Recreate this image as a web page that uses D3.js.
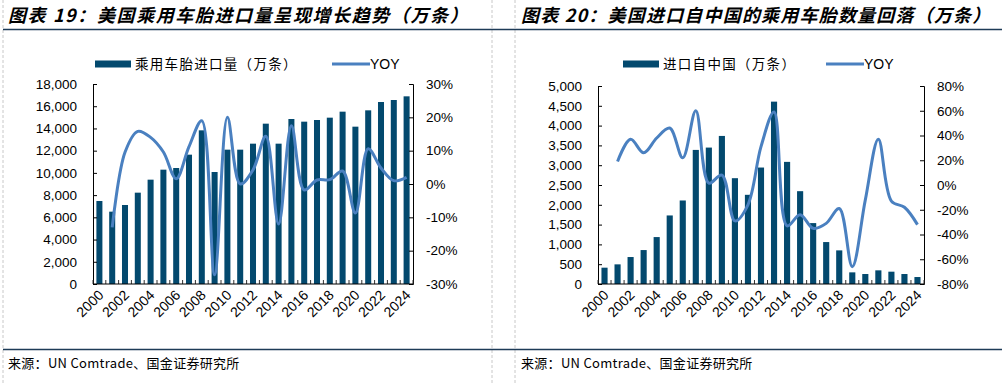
<!DOCTYPE html>
<html>
<head>
<meta charset="utf-8">
<script src="https://cdn.jsdelivr.net/npm/d3@7"></script>
<style>
  body { margin: 0; background: #fff; }
  svg { display: block; }
  .tick text { font-family: "Liberation Sans", Arial, sans-serif; }
</style>
</head>
<body>
<svg id="chart" width="1002" height="385"></svg>
<script>
// ---- data ----
var years = d3.range(2000, 2025).map(String);
var yearLabels = years.filter(function(d, i){ return i % 2 == 0; });

// chart 19: US passenger tyre imports (10k units)
var importsTotal = [7470, 6510, 7110, 8220, 9390, 10290, 10440, 11640, 13830, 10080,
                    12090, 12090, 12630, 14430, 12630, 14850, 14610, 14760, 14970, 15510,
                    14160, 15630, 16380, 16560, 16890];
var importsTotalYoy = [null, -13.0, 9.5, 15.8, 14.0, 9.6, 1.6, 11.2, 19.0, -27.2,
                       20.0, 0.0, 4.2, 14.3, -12.0, 17.5, -1.8, 1.2, 1.3, 3.9,
                       -8.7, 10.6, 4.8, 1.0, 2.0];

// chart 20: US imports from China (10k units)
var importsChina = [412, 496, 681, 857, 1185, 1731, 2109, 3386, 3445, 3739,
                    2672, 2252, 2941, 4605, 3084, 2344, 1538, 1059, 849, 294,
                    252, 345, 311, 252, 176];
var importsChinaYoy = [null, 19, 37, 26, 38, 46, 22, 60, 1.5, 8,
                       -29, -16, 31, 59, -33, -24, -35, -31, -19, -66,
                       -12, 37, -13, -18, -32];

var leftTicks1 = d3.range(0, 18001, 2000);
var rightTicks1 = d3.range(-30, 31, 10);
var leftTicks2 = d3.range(0, 5001, 500);
var rightTicks2 = d3.range(-80, 81, 20);

var barColor = "#03496e";
var lineColor = "#4a80c0";
var ruleColor = "#1d3b57";
var cjk = "'Noto Sans CJK SC', sans-serif";
var latin = "'Liberation Sans', Arial, sans-serif";

var svg = d3.select("#chart");

// frame: dashed separators and rules
[3, 492, 515].forEach(function(x){
    svg.append("line")
        .attr("x1", x).attr("x2", x).attr("y1", 0).attr("y2", 385)
        .attr("stroke", "#c8c8c8").attr("stroke-dasharray", "3,2");
});
[29.5, 349.5].forEach(function(y){
    svg.append("line")
        .attr("x1", 3).attr("x2", 1002).attr("y1", y).attr("y2", y)
        .attr("stroke", ruleColor).attr("stroke-width", 1.3);
});

function drawChart(cfg){
    var g = svg.append("g");

    g.append("text")
        .attr("x", cfg.titleX).attr("y", 22)
        .style("font-family", cjk).style("font-weight", "bold")
        .style("font-style", "italic").style("font-size", "18px")
        .style("letter-spacing", cfg.titleSpacing + "px")
        .text(cfg.title);

    g.append("text")
        .attr("x", cfg.titleX).attr("y", 368)
        .style("font-family", cjk).style("font-size", "13px")
        .style("letter-spacing", "0.3px")
        .text("来源：UN Comtrade、国金证券研究所");

    var x = d3.scaleBand().domain(years)
        .range([cfg.x0, cfg.x1])
        .paddingInner(0.53).paddingOuter(0.265);

    var yL = d3.scaleLinear().domain(cfg.leftDomain).range([cfg.yBot, cfg.yTop]);
    var yR = d3.scaleLinear().domain(cfg.rightDomain).range([cfg.yBot, cfg.yTop]);

    // bars
    g.selectAll(".bar").data(cfg.bars).enter().append("rect")
        .attr("x", function(d, i){ return x(years[i]); })
        .attr("width", x.bandwidth())
        .attr("y", function(d){ return yL(d); })
        .attr("height", function(d){ return cfg.yBot - yL(d); })
        .attr("fill", barColor);

    // left axis
    var axL = g.append("g")
        .attr("transform", "translate(" + cfg.x0 + ",0)")
        .call(d3.axisLeft(yL).tickValues(cfg.leftTicks).tickSize(-4).tickPadding(16)
            .tickFormat(d3.format(",")));
    // right axis
    var axR = g.append("g")
        .attr("transform", "translate(" + cfg.x1 + ",0)")
        .call(d3.axisRight(yR).tickValues(cfg.rightTicks).tickSize(-4).tickPadding(13)
            .tickFormat(function(d){ return d + "%"; }));
    [axL, axR].forEach(function(a){
        a.select(".domain").attr("stroke", "#000");
        a.selectAll(".tick line").attr("stroke", "#000");
        a.selectAll(".tick text").style("font-size", "13.5px").attr("fill", "#000");
    });

    // bottom axis with boundary ticks
    var step = x.step();
    var bounds = d3.range(years.length + 1).map(function(i){ return cfg.x0 + i * step; });
    g.selectAll(".xb").data(bounds).enter().append("line")
        .attr("x1", function(d){ return d; }).attr("x2", function(d){ return d; })
        .attr("y1", cfg.yBot).attr("y2", cfg.yBot - 4)
        .attr("stroke", "#333");
    g.append("line")
        .attr("x1", cfg.x0).attr("x2", cfg.x1)
        .attr("y1", cfg.yBot).attr("y2", cfg.yBot)
        .attr("stroke", "#000");

    g.selectAll(".xl").data(yearLabels).enter().append("text")
        .attr("transform", function(d){
            var cx = x(d) + x.bandwidth() / 2 + 5;
            return "translate(" + cx + "," + (cfg.yBot + 12) + ") rotate(-45)";
        })
        .attr("text-anchor", "end")
        .style("font-family", latin).style("font-size", "14px")
        .text(function(d){ return d; });

    // yoy line (first year has no yoy)
    var pts = cfg.yoy.map(function(d, i){ return d == null ? null : [i, d]; }).filter(Boolean);
    g.append("path")
        .datum(pts)
        .attr("d", d3.line()
            .x(function(d){ return x(years[d[0]]) + x.bandwidth() / 2; })
            .y(function(d){ return yR(d[1]); })
            .curve(d3.curveCatmullRom.alpha(0.5)))
        .attr("fill", "none")
        .attr("stroke", lineColor).attr("stroke-width", 3);

    // legend
    var lg = g.append("g");
    lg.append("rect")
        .attr("x", cfg.legX).attr("y", 60.5).attr("width", 36).attr("height", 7)
        .attr("fill", barColor);
    lg.append("text")
        .attr("x", cfg.legX + 40).attr("y", 69)
        .style("font-family", cjk).style("font-size", "13.5px")
        .style("letter-spacing", "1.3px")
        .text(cfg.barName);
    lg.append("line")
        .attr("x1", cfg.legLineX).attr("x2", cfg.legLineX + 38)
        .attr("y1", 64).attr("y2", 64)
        .attr("stroke", lineColor).attr("stroke-width", 3);
    lg.append("text")
        .attr("x", cfg.legLineX + 38).attr("y", 69)
        .style("font-family", latin).style("font-size", "14px")
        .text("YOY");
}

drawChart({
    title: "图表 19：美国乘用车胎进口量呈现增长趋势（万条）",
    titleX: 8, titleSpacing: 1.6,
    x0: 93, x1: 413, yTop: 84, yBot: 284,
    leftDomain: [0, 18000], rightDomain: [-30, 30],
    leftTicks: leftTicks1, rightTicks: rightTicks1,
    bars: importsTotal, yoy: importsTotalYoy,
    barName: "乘用车胎进口量（万条）",
    legX: 95, legLineX: 332
});

drawChart({
    title: "图表 20：美国进口自中国的乘用车胎数量回落（万条）",
    titleX: 521, titleSpacing: 1.2,
    x0: 598, x1: 924, yTop: 86, yBot: 284,
    leftDomain: [0, 5000], rightDomain: [-80, 80],
    leftTicks: leftTicks2, rightTicks: rightTicks2,
    bars: importsChina, yoy: importsChinaYoy,
    barName: "进口自中国（万条）",
    legX: 623, legLineX: 826
});
</script>
</body>
</html>
